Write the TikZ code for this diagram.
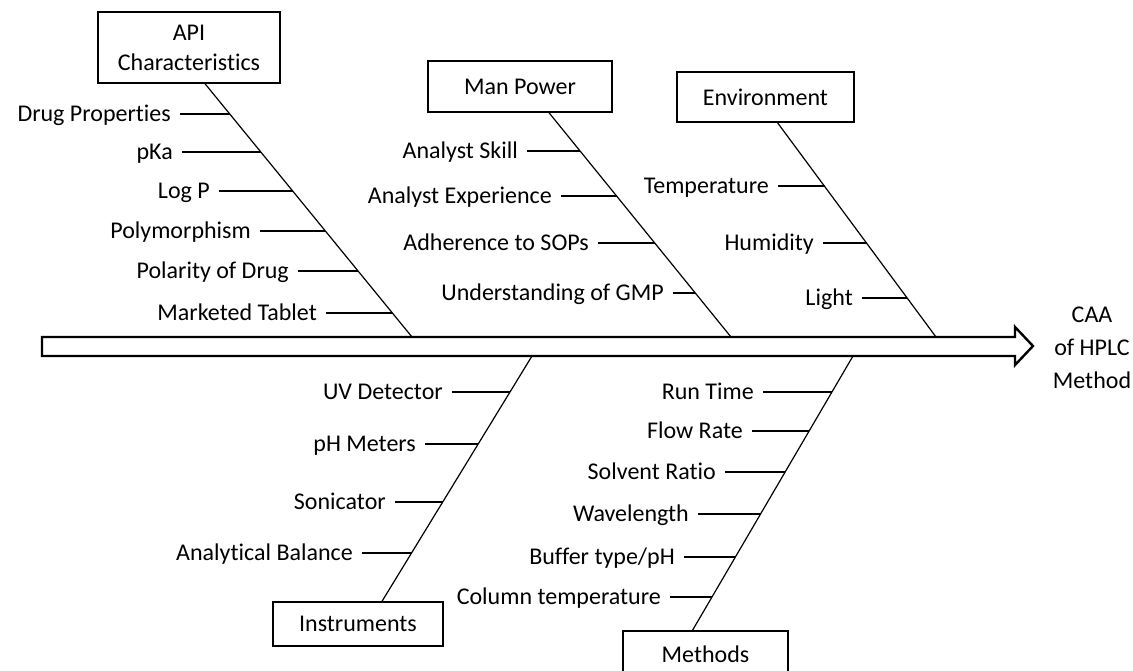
\documentclass[tikz,border=0pt]{standalone}
\usepackage{fontspec}
\setmainfont{Carlito}[Ligatures=NoCommon]
\usetikzlibrary{calc}

\tikzset{
  cause/.style={draw, line width=1.4pt, inner sep=0pt, align=center,
    font=\fontsize{24}{30}\selectfont},
  item/.style={anchor=east, inner xsep=9pt, inner ysep=0pt,
    text height=15.4pt, text depth=0pt, font=\fontsize{24}{28}\selectfont},
  bone/.style={line width=1.2pt},
}

\begin{document}
\begin{tikzpicture}[x=1pt, y=-1pt]
\useasboundingbox (0,0) rectangle (1133,670);
\clip (0,0) rectangle (1133,670);

% spine
\draw[line width=2.4pt, line join=miter] (42,337) -- (1015,337) -- (1015,327) -- (1033,346)
   -- (1015,365) -- (1015,356) -- (42,356) -- cycle;
\node[align=center, font=\fontsize{24}{33}\selectfont] (caa) at (1092,348) {CAA\\of HPLC\\Method};

% cause boxes
\node[cause, minimum width=182pt, minimum height=71pt] (api) at (189,47.5) {API\\Characteristics};
\node[cause, minimum width=184pt, minimum height=51pt] (man) at (520,86.5) {Man Power};
\node[cause, minimum width=177pt, minimum height=50pt] (env) at (765.5,97) {Environment};
\node[cause, minimum width=170pt, minimum height=44pt] (ins) at (358,624) {Instruments};
\node[cause, minimum width=165pt, minimum height=46pt] (met) at (705.5,654) {Methods};

% bones
\coordinate (apiEnd) at (412,337);
\coordinate (manEnd) at (731,337);
\coordinate (envEnd) at (936,337);
\coordinate (insEnd) at (532,356);
\coordinate (metEnd) at (853,356);
\draw[bone] ([xshift=16pt]api.south) -- (apiEnd);
\draw[bone] ([xshift=29pt]man.south) -- (manEnd);
\draw[bone] ([xshift=12pt]env.south) -- (envEnd);
\draw[bone] ([xshift=24pt]ins.north) -- (insEnd);
\draw[bone] ([xshift=-13pt]met.north) -- (metEnd);

% sub causes
\foreach \y/\xs/\xe/\txt [count=\i] in {114/180/230.2/Drug Properties, 152/182/261/pKa,
    191/219/292.7/Log P, 231/260/325.1/Polymorphism, 271/298/357.6/Polarity of Drug,
    313/326/391.7/Marketed Tablet} {
  \node[item] (api\i) at (\xs,\y) {\txt};
  \coordinate (apiB\i) at (\xe,\y);
  \draw[bone] (api\i) -- (apiB\i);
}
\foreach \y/\xs/\xe/\txt [count=\i] in {151/527/580.4/Analyst Skill,
    196/561/616.6/Analyst Experience, 243/598/654.5/Adherence to SOPs,
    293/673/694.8/Understanding of GMP} {
  \node[item] (man\i) at (\xs,\y) {\txt};
  \coordinate (manB\i) at (\xe,\y);
  \draw[bone] (man\i) -- (manB\i);
}
\foreach \y/\xs/\xe/\txt [count=\i] in {186/778/824.8/Temperature,
    243/823/866.5/Humidity, 298/862/906.7/Light} {
  \node[item] (env\i) at (\xs,\y) {\txt};
  \coordinate (envB\i) at (\xe,\y);
  \draw[bone] (env\i) -- (envB\i);
}
\foreach \y/\xs/\xe/\txt [count=\i] in {392/452/510/UV Detector,
    444/425/478.3/pH Meters, 502/395/443/Sonicator,
    553/362/411.9/Analytical Balance} {
  \node[item] (ins\i) at (\xs,\y) {\txt};
  \coordinate (insB\i) at (\xe,\y);
  \draw[bone] (ins\i) -- (insB\i);
}
\foreach \y/\xs/\xe/\txt [count=\i] in {392/763/831.9/Run Time,
    431/752/809.1/Flow Rate, 472/725/785.1/Solvent Ratio,
    514/698/760.5/Wavelength, 557/684/735.3/{Buffer type/pH},
    597/670/711.9/Column temperature} {
  \node[item] (met\i) at (\xs,\y) {\txt};
  \coordinate (metB\i) at (\xe,\y);
  \draw[bone] (met\i) -- (metB\i);
}
\end{tikzpicture}
\end{document}
